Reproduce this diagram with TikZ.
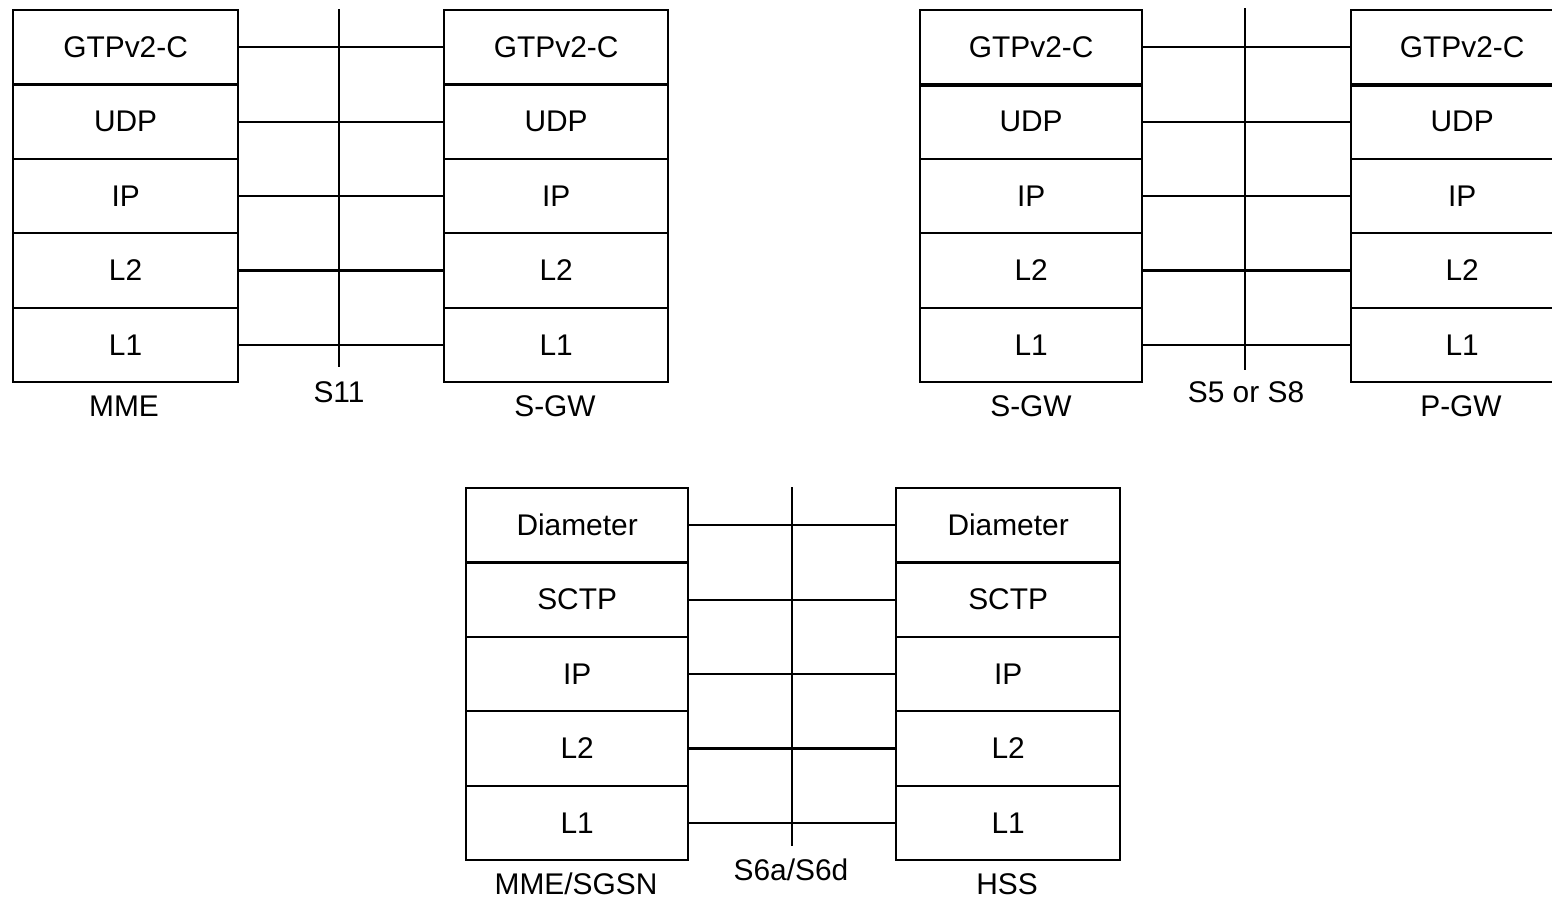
\documentclass[tikz,border=0pt]{standalone}
\usepackage{fontspec}
\setmainfont{Liberation Sans}
\begin{document}
\begin{tikzpicture}[x=0.01cm,y=-0.01cm,
  every node/.style={font=\fontsize{8.5}{10}\selectfont},
  cell/.style={draw,line width=0.6pt,inner sep=0pt,anchor=north west,minimum height=0.744cm},
  link/.style={line width=0.6pt},
  lbl/.style={inner sep=0pt}]
\useasboundingbox (0,0) rectangle (1552,899);
\clip (0,0) rectangle (1552,899);
\fill[white] (0,0) rectangle (1552,899);
\newcommand\protostack[5]{% name, left x, top y, width (cm), labels
  \foreach \t [count=\i] in {#5} {
    \node[cell,minimum width=#4cm] (#1\i) at (#2,{#3+(\i-1)*74.4}) {\t};
  }}
% ---- top left: S11 ----
\protostack{mme}{12}{9}{2.25}{GTPv2-C,UDP,IP,L2,L1}
\protostack{sgwa}{443}{9}{2.24}{GTPv2-C,UDP,IP,L2,L1}
\foreach \i in {1,...,5} \draw[link] (mme\i.east) -- (sgwa\i.west);
\coordinate (s11top) at (339,9);
\coordinate (s11bot) at (339,367);
\draw[link] (s11top) -- (s11bot);
\node[lbl] (s11) at (339,392) {S11};
\node[lbl] (mmelbl) at (124,406) {MME};
\node[lbl] (sgwalbl) at (555,406) {S-GW};
% ---- top right: S5 or S8 ----
\protostack{sgwb}{919}{9}{2.22}{GTPv2-C,UDP,IP,L2,L1}
\protostack{pgw}{1350}{9}{2.22}{GTPv2-C,UDP,IP,L2,L1}
\draw[line width=1pt] (sgwb1.south west) -- (sgwb1.south east);
\draw[line width=1pt] (pgw1.south west) -- (pgw1.south east);
\foreach \i in {1,...,5} \draw[link] (sgwb\i.east) -- (pgw\i.west);
\coordinate (s5top) at (1245,8);
\coordinate (s5bot) at (1245,370);
\draw[link] (s5top) -- (s5bot);
\node[lbl] (s5) at (1246,392) {S5 or S8};
\node[lbl] (sgwblbl) at (1031,406) {S-GW};
\node[lbl] (pgwlbl) at (1461,406) {P-GW};
% ---- bottom: S6a/S6d ----
\protostack{mmes}{465}{487}{2.22}{Diameter,SCTP,IP,L2,L1}
\protostack{hss}{895}{487}{2.24}{Diameter,SCTP,IP,L2,L1}
\foreach \i in {1,...,5} \draw[link] (mmes\i.east) -- (hss\i.west);
\coordinate (s6top) at (792,487);
\coordinate (s6bot) at (792,846);
\draw[link] (s6top) -- (s6bot);
\node[lbl] (s6) at (791,870) {S6a/S6d};
\node[lbl] (mmeslbl) at (576,884) {MME/SGSN};
\node[lbl] (hsslbl) at (1007,884) {HSS};
\end{tikzpicture}
\end{document}
